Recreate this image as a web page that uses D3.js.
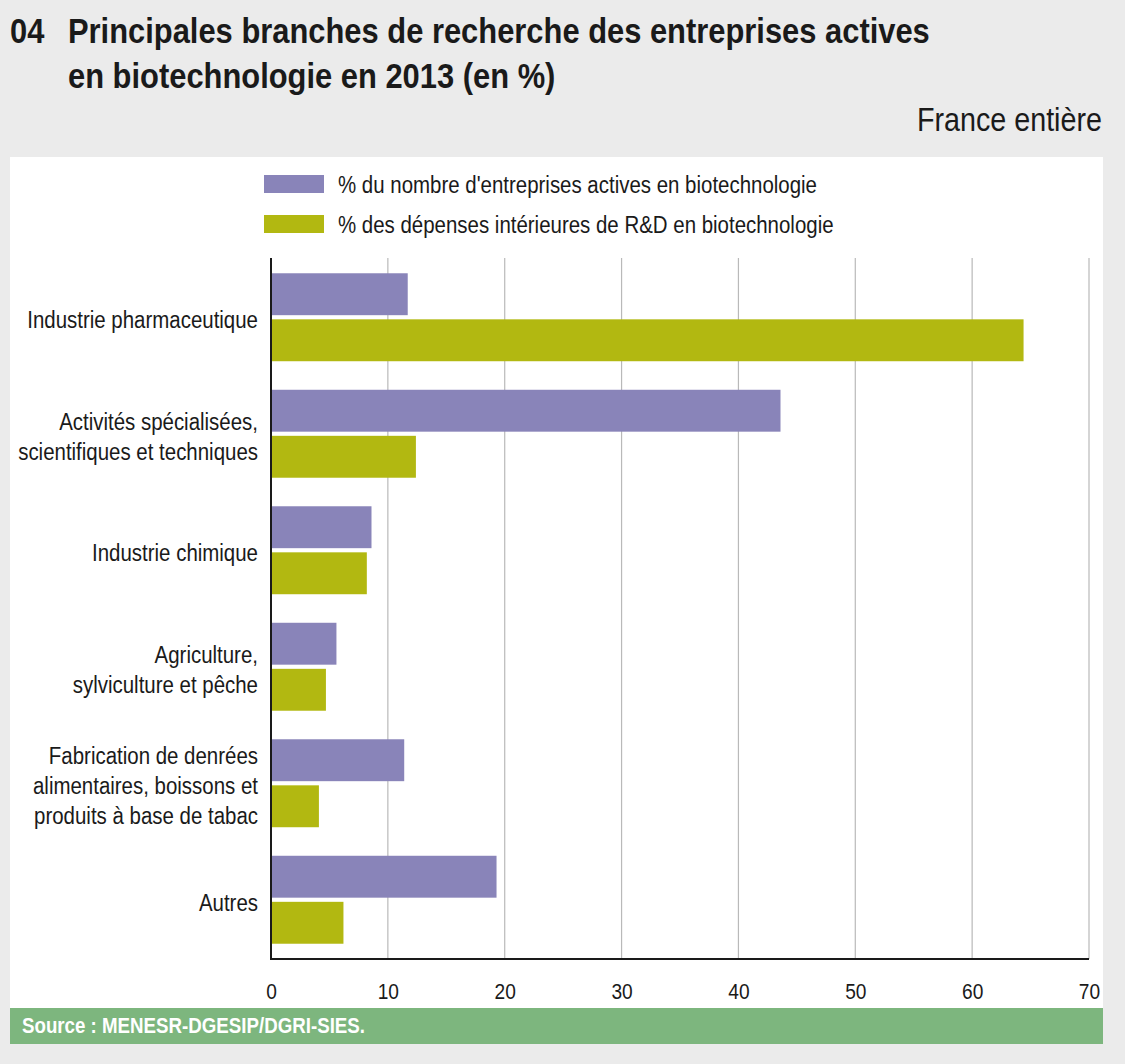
<!DOCTYPE html>
<html>
<head>
<meta charset="utf-8">
<script src="https://cdn.jsdelivr.net/npm/d3@7"></script>
<style>
  body { margin: 0; background: #ebebeb; }
  text { font-family: "Liberation Sans", Arial, Helvetica, sans-serif; fill: #1a1a1a; }
</style>
</head>
<body>
<svg id="chart" width="1125" height="1064"></svg>
<script>
// data
const branches = [
  "Industrie pharmaceutique",
  "Activités spécialisées,|scientifiques et techniques",
  "Industrie chimique",
  "Agriculture,|sylviculture et pêche",
  "Fabrication de denrées|alimentaires, boissons et|produits à base de tabac",
  "Autres"
];
const seriesNames = [
  "% du nombre d'entreprises actives en biotechnologie",
  "% des dépenses intérieures de R&D en biotechnologie"
];
const entreprises = [11.7, 43.6, 8.6, 5.6, 11.4, 19.3];
const depenses = [64.4, 12.4, 8.2, 4.7, 4.1, 6.2];
const xTicks = [0, 10, 20, 30, 40, 50, 60, 70];
const colors = ["#8984b9", "#b2b811"];

// the original uses a condensed Helvetica, squeeze Liberation Sans to match
const CONDENSE = 0.87;

const svg = d3.select('#chart');

// title
svg.append('text').attr('x', 10).attr('y', 43)
  .style('font-weight', 'bold').style('font-size', '35.5px').text('04');
svg.append('text').attr('x', 68).attr('y', 43)
  .style('font-weight', 'bold').style('font-size', '35.5px')
  .text('Principales branches de recherche des entreprises actives');
svg.append('text').attr('x', 68).attr('y', 88)
  .style('font-weight', 'bold').style('font-size', '35.5px')
  .text('en biotechnologie en 2013 (en %)');
svg.append('text').attr('x', 1102).attr('y', 131)
  .attr('text-anchor', 'end').style('font-size', '33px')
  .text('France entière');

// white panel
svg.append('rect').attr('x', 10).attr('y', 157).attr('width', 1093).attr('height', 851)
  .attr('fill', '#fff');

// legend
let legend = svg.append('g');
seriesNames.forEach(function(name, i) {
  legend.append('rect').attr('x', 264).attr('y', 175 + i * 40)
    .attr('width', 60).attr('height', 18).attr('fill', colors[i]);
  legend.append('text').attr('x', 338).attr('y', 193 + i * 40)
    .style('font-size', '23.5px').text(name);
});

// scales
let x = d3.scaleLinear().domain([0, 70]).range([271, 1089]);
let y = d3.scaleBand().domain(branches).range([259, 958])
  .paddingInner(0.245).paddingOuter(0.1225);
let ySub = d3.scaleBand().domain([0, 1]).range([0, y.bandwidth()]).paddingInner(0.09);

// gridlines
svg.append('g')
  .selectAll('line')
  .data(xTicks.slice(1))
  .join('line')
  .attr('x1', d => x(d)).attr('x2', d => x(d))
  .attr('y1', 258).attr('y2', 959)
  .attr('stroke', '#b9b9b9').attr('stroke-width', 1.2);

// bars
let rows = branches.map((b, i) => ({ branch: b, values: [entreprises[i], depenses[i]] }));
let groups = svg.append('g')
  .selectAll('g')
  .data(rows)
  .join('g')
  .attr('transform', d => 'translate(0,' + y(d.branch) + ')');

groups.selectAll('rect')
  .data(d => d.values.map((v, k) => ({ k: k, v: v })))
  .join('rect')
  .attr('x', x(0))
  .attr('y', d => ySub(d.k))
  .attr('width', d => x(d.v) - x(0))
  .attr('height', ySub.bandwidth())
  .attr('fill', d => colors[d.k]);

// category labels, one text per line
groups.each(function(d) {
  let lines = d.branch.split('|');
  let mid = y.bandwidth() / 2;
  let g = d3.select(this);
  lines.forEach(function(l, j) {
    g.append('text')
      .attr('x', 258)
      .attr('y', mid + 11 + (j - (lines.length - 1) / 2) * 30)
      .attr('text-anchor', 'end')
      .style('font-size', '23.5px')
      .text(l);
  });
});

// axes lines
svg.append('line').attr('x1', 271).attr('x2', 271).attr('y1', 258).attr('y2', 960)
  .attr('stroke', '#1a1a1a').attr('stroke-width', 2);
svg.append('line').attr('x1', 270).attr('x2', 1089).attr('y1', 959).attr('y2', 959)
  .attr('stroke', '#1a1a1a').attr('stroke-width', 2);

// x tick labels
let xAxis = d3.axisBottom(x).tickValues(xTicks).tickSize(0).tickPadding(0);
let ax = svg.append('g').attr('transform', 'translate(0,983)').call(xAxis);
ax.select('.domain').remove();
ax.attr('font-family', null).attr('font-size', null);
ax.selectAll('text').style('font-size', '22px').attr('fill', '#1a1a1a');

// source bar
svg.append('rect').attr('x', 10).attr('y', 1008).attr('width', 1093).attr('height', 36)
  .attr('fill', '#7db67e');
svg.append('text').attr('x', 22).attr('y', 1033)
  .style('font-weight', 'bold').style('font-size', '21.5px').style('fill', '#fff')
  .text('Source : MENESR-DGESIP/DGRI-SIES.');

// condense every text
svg.selectAll('text').each(function() {
  let w = this.getComputedTextLength();
  d3.select(this).attr('textLength', w * CONDENSE).attr('lengthAdjust', 'spacingAndGlyphs');
});
</script>
</body>
</html>
